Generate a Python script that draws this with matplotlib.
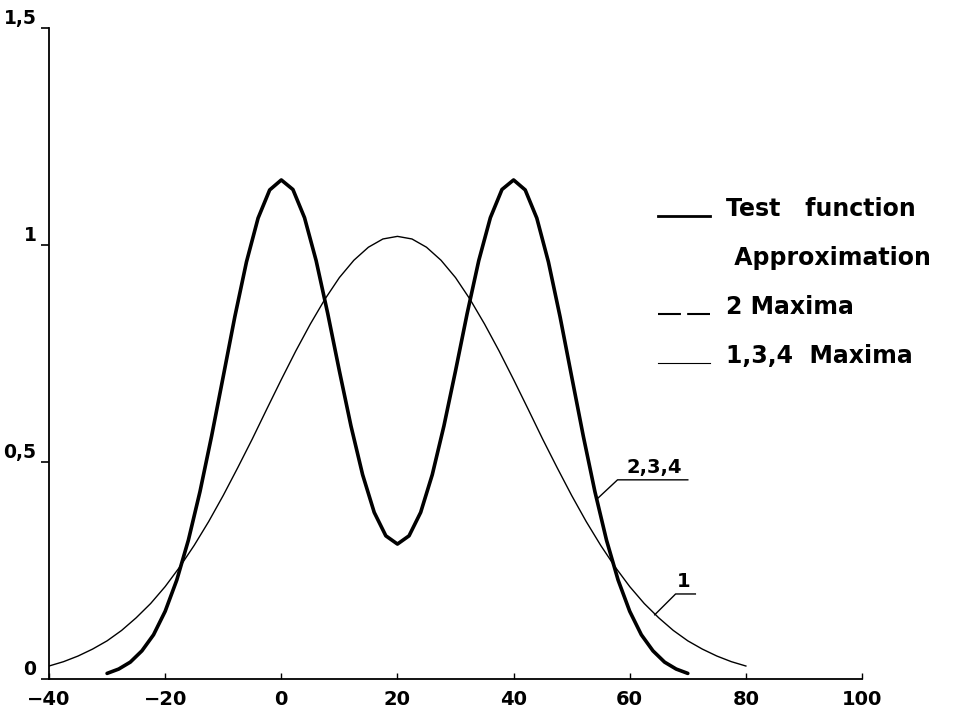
import numpy as np
import matplotlib
matplotlib.use('Agg')
import matplotlib.pyplot as plt
from matplotlib.lines import Line2D
from matplotlib.legend_handler import HandlerLine2D

# test function (two maxima)
test_x = [-30, -28, -26, -24, -22, -20, -18, -16, -14, -12, -10, -8, -6, -4,
          -2, 0, 2, 4, 6, 8, 10, 12, 14, 16, 18, 20, 22, 24, 26, 28, 30, 32,
          34, 36, 38, 40, 42, 44, 46, 48, 50, 52, 54, 56, 58, 60, 62, 64, 66,
          68, 70]
test_y = [0.013, 0.023, 0.039, 0.065, 0.102, 0.156, 0.228, 0.320, 0.432,
          0.560, 0.697, 0.835, 0.961, 1.062, 1.127, 1.150, 1.128, 1.063,
          0.964, 0.842, 0.710, 0.583, 0.471, 0.384, 0.330, 0.311, 0.330,
          0.384, 0.471, 0.583, 0.710, 0.842, 0.964, 1.063, 1.128, 1.150,
          1.127, 1.062, 0.961, 0.835, 0.697, 0.560, 0.432, 0.320, 0.228,
          0.156, 0.102, 0.065, 0.039, 0.023, 0.013]

# approximation 1 (one maximum)
approx_x = [-40, -37.5, -35, -32.5, -30, -27.5, -25, -22.5, -20, -17.5, -15,
            -12.5, -10, -7.5, -5, -2.5, 0, 2.5, 5, 7.5, 10, 12.5, 15, 17.5,
            20, 22.5, 25, 27.5, 30, 32.5, 35, 37.5, 40, 42.5, 45, 47.5, 50,
            52.5, 55, 57.5, 60, 62.5, 65, 67.5, 70, 72.5, 75, 77.5, 80]
approx_y = [0.030, 0.040, 0.053, 0.069, 0.088, 0.112, 0.141, 0.174, 0.213,
            0.258, 0.308, 0.363, 0.423, 0.487, 0.553, 0.622, 0.690, 0.756,
            0.818, 0.875, 0.925, 0.965, 0.995, 1.014, 1.020, 1.014, 0.995,
            0.965, 0.925, 0.875, 0.818, 0.756, 0.690, 0.622, 0.553, 0.487,
            0.423, 0.363, 0.308, 0.258, 0.213, 0.174, 0.141, 0.112, 0.088,
            0.069, 0.053, 0.040, 0.030]

x_ticks = [-40, -20, 0, 20, 40, 60, 80, 100]
x_labels = ['\u221240', '\u221220', '0', '20', '40', '60', '80', '100']
y_ticks = [0, 0.5, 1, 1.5]
y_labels = ['0', '0,5', '1', '1,5']

legend_labels = ['Test   function', ' Approximation', '2 Maxima', '1,3,4  Maxima']


class BaselineLine(HandlerLine2D):
    # legend sample drawn at the text baseline, like an underline
    def create_artists(self, legend, orig_handle, xdescent, ydescent,
                       width, height, fontsize, trans):
        arts = super().create_artists(legend, orig_handle, xdescent, ydescent,
                                      width, height, fontsize, trans)
        for a in arts:
            a.set_ydata(np.asarray(a.get_ydata()) - 0.5 * height)
        return arts


plt.rcParams['font.family'] = ['DejaVu Sans']
plt.rcParams['font.weight'] = 'bold'

fig = plt.figure(figsize=(9.61, 7.12), dpi=100)
ax = fig.add_axes([0.051, 0.0463, 0.846, 0.9143])

ax.plot(test_x, test_y, color='black', lw=2.6, solid_capstyle='round',
        solid_joinstyle='round')
ax.plot(approx_x, approx_y, color='black', lw=1.0, solid_joinstyle='round')

ax.set_xlim(-40, 100)
ax.set_ylim(0, 1.5)
ax.spines['top'].set_visible(False)
ax.spines['right'].set_visible(False)
ax.spines['left'].set_linewidth(1.3)
ax.spines['bottom'].set_linewidth(1.3)

ax.set_xticks(x_ticks)
ax.set_xticklabels(x_labels, fontsize=14)
ax.tick_params(axis='x', direction='in', length=4, width=1, pad=8)
ax.set_yticks(y_ticks)
ax.set_yticklabels(y_labels, fontsize=13.5, va='bottom')
ax.tick_params(axis='y', direction='out', length=6, width=1.2, pad=3)

# leader labels
ax.annotate('2,3,4', xy=(54.3, 0.414), xytext=(64.3, 0.466), fontsize=14,
            ha='center', va='bottom')
ax.plot([54.3, 57.9, 70.0], [0.414, 0.459, 0.459], color='black', lw=1.0)
ax.annotate('1', xy=(64.3, 0.148), xytext=(69.3, 0.203), fontsize=14,
            ha='center', va='bottom')
ax.plot([64.3, 67.9, 71.3], [0.148, 0.196, 0.196], color='black', lw=1.0)

handles = [Line2D([], [], color='black', lw=2.0),
           Line2D([], [], color='none'),
           Line2D([], [], color='black', lw=1.5, ls=(0, (11, 3))),
           Line2D([], [], color='black', lw=0.8)]
ax.legend(handles, legend_labels, loc='upper left', bbox_to_anchor=(0.734, 0.758),
          frameon=False, fontsize=17, handlelength=2.2, handletextpad=0.7,
          labelspacing=1.05, borderpad=0,
          handler_map={Line2D: BaselineLine()})

fig.savefig('out.png', dpi=100)
